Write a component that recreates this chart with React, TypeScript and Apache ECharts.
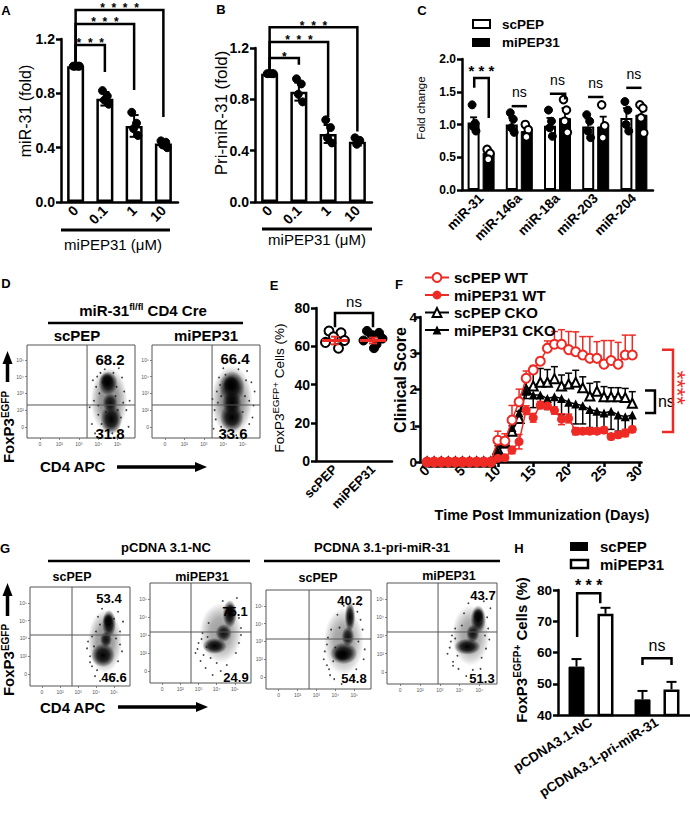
import React, { useEffect, useRef } from 'react';
import * as echarts from 'echarts';

const FONT = '"Liberation Sans", Arial, Helvetica, sans-serif';
const RED = '#ee2a24';

// ---------------- Panel A ----------------
const doseLabels = ['0', '0.1', '1', '10'];
const aMean = [1.0, 0.76, 0.56, 0.43];
const aSd = [0, 0.05, 0.08, 0.02];
const aDots = [[1, 1, 1, 1], [0.82, 0.78, 0.75, 0.72], [0.66, 0.58, 0.54, 0.49], [0.45, 0.44, 0.42, 0.4]];
const aSig = [[0, 0, 1, 0, 1.156, 1.03, 0.957], [0, 0, 2, 0, 1.31, 1.03, 0.825], [0, 0, 3, 0, 1.414, 1.03, 0.626]];
const aSigText = ['*  *  *', '*  *  *', '*  *  *  *'];

// ---------------- Panel B ----------------
const bMean = [1.0, 0.86, 0.53, 0.47];
const bSd = [0, 0.07, 0.07, 0.03];
const bDots = [[1, 1, 1, 1], [0.96, 0.92, 0.84, 0.78], [0.64, 0.58, 0.5, 0.46], [0.5, 0.48, 0.45]];
const bSig = [[0, 0, 1, 0, 1.122, 1.03, 1.07], [0, 0, 2, 0, 1.247, 1.03, 0.662], [0, 0, 3, 0, 1.362, 1.03, 0.55]];
const bSigText = ['*', '*  *  *', '*  *  *'];

// ---------------- Panel C ----------------
const mirCats = ['miR-31', 'miR-146a', 'miR-18a', 'miR-203', 'miR-204'];
const cScMean = [1.03, 1.0, 0.98, 0.97, 1.1];
const cScSd = [0.08, 0.1, 0.12, 0.12, 0.15];
const cScDots = [[1.3, 1.02, 0.97, 0.9], [1.18, 1.08, 0.95, 0.88], [1.22, 1.05, 0.95, 0.82], [1.15, 1.05, 0.9, 0.8], [1.35, 1.22, 1.0, 0.9]];
const cMiMean = [0.57, 0.9, 1.1, 0.97, 1.15];
const cMiSd = [0.05, 0.08, 0.15, 0.15, 0.12];
const cMiDots = [[0.62, 0.56, 0.47], [1.0, 0.92, 0.81], [1.38, 1.22, 1.05, 0.88], [1.3, 0.98, 0.8], [1.3, 1.25, 1.1, 0.87]];
const cSig = [[0, -0.18, 0, 0.2, 1.71, 1.56, 1.1], [1, -0.2, 1, 0.2, 1.28, 1.28, 1.28], [2, -0.2, 2, 0.2, 1.47, 1.47, 1.38], [3, -0.2, 3, 0.2, 1.42, 1.42, 1.42], [4, -0.2, 4, 0.2, 1.56, 1.56, 1.56]];
const cSigText = ['* * *', 'ns', 'ns', 'ns', 'ns'];

// ---------------- Panel E ----------------
const eCats = ['scPEP', 'miPEP31'];
const eScDots = [68, 67, 65, 63, 62, 59];
const eMiDots = [68, 67, 66, 64, 63, 61, 59];
const eMean = [63, 63];
const eSd = [2, 1.5];
const eSig = [[0, 0, 1, 0, 77.4, 70, 70]];
const eSigText = ['ns'];

// ---------------- Panel F ----------------
const days = [0, 1, 2, 3, 4, 5, 6, 7, 8, 9, 10, 11, 12, 13, 14, 15, 16, 17, 18, 19, 20, 21, 22, 23, 24, 25, 26, 27, 28, 29];
const fScWt = [0, 0, 0, 0, 0, 0, 0, 0, 0, 0, 0.6, 0.58, 1.16, 1.66, 2.31, 2.54, 2.78, 3.14, 3.25, 3.25, 3.1, 3.04, 2.95, 2.86, 2.86, 2.7, 2.8, 2.7, 2.95, 2.95];
const fScWtSd = [0, 0, 0, 0, 0, 0, 0, 0, 0, 0, 0.25, 0.2, 0.4, 0.35, 0.2, 0.12, 0.1, 0.2, 0.35, 0.4, 0.5, 0.55, 0.51, 0.6, 0.46, 0.65, 0.55, 0.6, 0.55, 0.55];
const fMiWt = [0, 0, 0, 0, 0, 0, 0, 0, 0, 0, 0.1, 0.12, 0.33, 0.56, 1.43, 1.22, 1.57, 1.55, 1.42, 1.18, 1.2, 0.85, 0.85, 0.85, 0.85, 0.88, 0.7, 0.75, 0.8, 0.9];
const fMiWtSd = [0, 0, 0, 0, 0, 0, 0, 0, 0, 0, 0.05, 0.05, 0.1, 0.2, 0.12, 0.12, 0.1, 0.1, 0.1, 0.15, 0.12, 0.1, 0.08, 0.08, 0.08, 0.08, 0.08, 0.08, 0.1, 0.08];
const fScKo = [0, 0, 0, 0, 0, 0, 0, 0, 0, 0, 0.35, 0.55, 0.85, 1.2, 2.0, 2.1, 2.2, 2.2, 2.3, 2.1, 2.15, 2.2, 2.05, 1.82, 1.95, 1.8, 1.8, 1.8, 1.78, 1.62];
const fScKoSd = [0, 0, 0, 0, 0, 0, 0, 0, 0, 0, 0.1, 0.1, 0.15, 0.2, 0.25, 0.35, 0.38, 0.35, 0.33, 0.3, 0.3, 0.33, 0.3, 0.35, 0.26, 0.28, 0.25, 0.25, 0.25, 0.32];
const fMiKo = [0, 0, 0, 0, 0, 0, 0, 0, 0, 0, 0.3, 0.5, 0.95, 1.35, 1.95, 1.85, 1.85, 1.75, 1.8, 1.75, 1.65, 1.6, 1.55, 1.45, 1.4, 1.35, 1.4, 1.3, 1.25, 1.3];
const fMiKoSd = [0, 0, 0, 0, 0, 0, 0, 0, 0, 0, 0.1, 0.1, 0.15, 0.15, 0.2, 0.35, 0.3, 0.3, 0.35, 0.45, 0.5, 0.55, 0.5, 0.5, 0.55, 0.5, 0.5, 0.45, 0.45, 0.4];
const fDayTicks = [0, 5, 10, 15, 20, 25, 30];
const fSig = [[30.8, 32.2, 1.97, 1.35], [33.2, 34.75, 3.1, 0.83]];
const fSigText = ['ns', '****'];

// ---------------- Panel H ----------------
const hCats = ['pCDNA3.1-NC', 'pCDNA3.1-pri-miR-31'];
const hScMean = [55.5, 45.0];
const hScSd = [2.4, 2.7];
const hMiMean = [72.4, 48.2];
const hMiSd = [1.9, 2.4];
const hSig = [[0, -0.21, 0, 0.14, 79, 65, 75.8], [1, -0.22, 1, 0.22, 58.2, 56, 56]];
const hSigText = ['* * *', 'ns'];

// ---------------- Flow panels (x, y in 0-100 display units) ----------------
const flowTicks = [12, 30, 48, 66, 84];
const flowTickText = ['0', '10²', '10³', '10⁴', '10⁵'];
// clouds: [x, y, rx, ry, density]
const d1Clouds = [[76, 40, 17, 36, 0.5], [75, 59, 9, 13, 1], [78, 20, 10, 16, 1], [77, 38, 7, 10, 0.9], [74, 62, 6, 8, 0.9]];
const d2Clouds = [[74, 40, 19, 38, 0.55], [74, 55, 12, 17, 1], [74, 22, 11, 15, 1], [74, 38, 9, 12, 1], [73, 58, 7, 9, 0.9]];
const g1Clouds = [[75, 45, 17, 32, 0.45], [79, 63, 7, 14, 1], [73, 31, 12, 12, 1], [76, 47, 6, 8, 0.9], [78, 66, 5, 7, 0.9]];
const g2Clouds = [[70, 50, 21, 30, 0.4], [79, 69, 7, 14, 1], [64, 37, 12, 8, 1], [73, 50, 8, 9, 0.9], [80, 72, 5, 7, 0.9]];
const g3Clouds = [[74, 48, 19, 34, 0.4], [80, 73, 5, 15, 1], [74, 36, 13, 11, 1], [78, 53, 6, 10, 0.9], [72, 34, 7, 6, 0.9]];
const g4Clouds = [[76, 48, 17, 30, 0.4], [83, 64, 7, 14, 1], [73, 37, 12, 8, 1], [78, 50, 6, 9, 0.9], [83, 68, 5, 7, 0.9]];
const d1Specks = [[62, 40], [64, 55], [66, 25], [60, 15], [68, 70], [70, 8], [88, 65], [92, 30], [90, 50], [85, 75], [63, 5], [94, 12], [58, 33], [67, 48], [86, 8], [72, 74], [95, 40], [61, 62], [70, 60], [82, 45], [84, 30], [73, 28], [80, 70], [69, 15], [83, 55], [79, 5], [66, 35], [87, 22], [65, 66], [89, 38]];
const d2Specks = [[58, 30], [60, 50], [62, 65], [64, 12], [66, 75], [92, 60], [94, 35], [90, 15], [88, 72], [56, 42], [70, 3], [95, 50], [59, 20], [63, 57], [68, 68], [86, 45], [84, 28], [61, 38], [90, 40], [87, 62], [66, 5], [80, 74], [57, 10], [93, 22], [64, 45], [78, 3]];
const g1Specks = [[58, 45], [60, 30], [62, 20], [65, 10], [66, 55], [68, 70], [90, 55], [92, 35], [88, 75], [85, 12], [70, 5], [93, 65], [57, 38], [64, 40], [70, 62], [86, 48], [88, 25], [62, 50], [72, 78], [84, 68], [67, 16], [90, 42], [60, 24], [75, 12]];
const g2Specks = [[45, 30], [48, 40], [50, 22], [52, 50], [55, 15], [58, 60], [90, 55], [92, 75], [88, 40], [70, 12], [62, 8], [86, 85], [47, 34], [53, 28], [57, 46], [60, 25], [88, 65], [85, 30], [72, 82], [66, 20], [51, 44], [90, 48], [76, 18], [56, 36]];
const g3Specks = [[55, 30], [58, 45], [60, 20], [62, 60], [65, 10], [68, 75], [92, 60], [94, 40], [90, 85], [86, 20], [56, 38], [72, 5], [59, 52], [64, 28], [88, 48], [90, 70], [70, 62], [61, 14], [84, 12], [66, 42], [93, 30], [74, 84], [58, 24], [87, 78]];
const g4Specks = [[55, 30], [58, 42], [60, 22], [62, 55], [65, 15], [70, 70], [92, 55], [94, 75], [90, 35], [85, 15], [57, 36], [72, 8], [62, 45], [64, 28], [89, 48], [91, 66], [74, 80], [60, 18], [86, 26], [68, 58], [93, 44], [78, 14], [59, 48], [88, 82]];
const d1Gate = [[55.6, 35.5]];
const d2Gate = [[55.6, 35.5]];
const g1Gate = [[42, 51.5]];
const g2Gate = [[40.6, 51]];
const g3Gate = [[41, 50.5]];
const g4Gate = [[46.4, 51.5]];

// ---------------- helpers ----------------
const JIT = [-0.6, 0.6, -0.15, 0.95, -0.95, 0.35, 0.1];

function flat(lists: number[][]) {
  const out: number[][] = [];
  lists.forEach((vals, ci) => vals.forEach((v, k) => out.push([ci, v, k])));
  return out;
}

let measureCtx: CanvasRenderingContext2D | null = null;
function measure(text: string, size: number, weight: string) {
  if (!measureCtx) measureCtx = document.createElement('canvas').getContext('2d');
  if (!measureCtx) return text.length * size * 0.55;
  measureCtx.font = `${weight} ${size}px ${FONT}`;
  return measureCtx.measureText(text).width;
}

function tstyle(text: string, size: number, weight: string, align: string, fill = '#000', extra: any = {}) {
  return {
    text, fontSize: size, fontWeight: weight, fontFamily: FONT, fill,
    align, textAlign: align, verticalAlign: 'middle', textVerticalAlign: 'middle', ...extra,
  };
}

function T(x: number, y: number, text: string, size: number, weight = 'bold', align = 'center', extra: any = {}) {
  return { type: 'text', x, y, silent: true, style: tstyle(text, size, weight, align, extra.fill || '#000', extra.style || {}), rotation: extra.rotation || 0 };
}

function supLabel(parts: { t: string; s: number; w: string; rise: number }[], cx: number, cy: number, rotation: number) {
  const widths = parts.map((p) => measure(p.t, p.s, p.w));
  const total = widths.reduce((a, b) => a + b, 0);
  let x = -total / 2;
  const children = parts.map((p, i) => {
    const el = { type: 'text', x, y: -p.rise, style: tstyle(p.t, p.s, p.w, 'left') };
    x += widths[i];
    return el;
  });
  return { type: 'group', x: cx, y: cy, rotation, silent: true, children };
}

function line(x1: number, y1: number, x2: number, y2: number, w: number, color = '#000') {
  return { type: 'line', silent: true, shape: { x1, y1, x2, y2 }, style: { stroke: color, lineWidth: w } };
}

function arrowUp(x: number, tip: number, headBase: number, tail: number) {
  return [
    line(x, headBase, x, tail, 3.5),
    { type: 'polygon', silent: true, shape: { points: [[x, tip], [x - 5, headBase + 1], [x + 5, headBase + 1]] }, style: { fill: '#000' } },
  ];
}
function arrowRight(y: number, x1: number, headBase: number, tip: number) {
  return [
    line(x1, y, headBase, y, 3.5),
    { type: 'polygon', silent: true, shape: { points: [[tip, y], [headBase - 1, y - 5], [headBase - 1, y + 5]] }, style: { fill: '#000' } },
  ];
}

function errRender(o: { off: number; dir: string; color: string; cap: number; lw: number }) {
  return (params: any, api: any) => {
    const x = api.value(0), m = api.value(1), sd = api.value(2);
    if (!sd) return { type: 'group', children: [] };
    const p = api.coord([x, m]);
    const cx = p[0] + o.off;
    const top = o.dir === 'down' ? p[1] : api.coord([x, m + sd])[1];
    const bot = o.dir === 'up' ? p[1] : api.coord([x, m - sd])[1];
    const st = { stroke: o.color, lineWidth: o.lw };
    const ch: any[] = [{ type: 'line', shape: { x1: cx, y1: top, x2: cx, y2: bot }, style: st }];
    if (o.dir !== 'down') ch.push({ type: 'line', shape: { x1: cx - o.cap / 2, y1: top, x2: cx + o.cap / 2, y2: top }, style: st });
    if (o.dir !== 'up') ch.push({ type: 'line', shape: { x1: cx - o.cap / 2, y1: bot, x2: cx + o.cap / 2, y2: bot }, style: st });
    return { type: 'group', children: ch };
  };
}

function dotsRender(o: { off: number; fill: string; r: number; jitter: number; lw: number }) {
  return (params: any, api: any) => {
    const p = api.coord([api.value(0), api.value(1)]);
    const slot = api.value(2);
    const j = JIT[slot % JIT.length] * o.jitter;
    return { type: 'circle', shape: { cx: p[0] + o.off + j, cy: p[1], r: o.r }, style: { fill: o.fill, stroke: '#000', lineWidth: o.lw } };
  };
}

function bracketRender(labels: string[], o: { gapStar: number; gapNs: number; fsStar: number; fsNs: number; lw: number }) {
  return (params: any, api: any) => {
    const c1 = api.value(0), o1 = api.value(1), c2 = api.value(2), o2 = api.value(3);
    const top = api.value(4), b1 = api.value(5), b2 = api.value(6);
    const band = api.size([1, 0])[0];
    const p1 = api.coord([c1, top]), p2 = api.coord([c2, top]);
    const x1 = p1[0] + o1 * band, x2 = p2[0] + o2 * band, yt = p1[1];
    const y1 = api.coord([c1, b1])[1], y2 = api.coord([c2, b2])[1];
    const lab = labels[params.dataIndex];
    const star = lab.indexOf('*') >= 0;
    return {
      type: 'group',
      children: [
        { type: 'polyline', shape: { points: [[x1, y1], [x1, yt], [x2, yt], [x2, y2]] }, style: { stroke: '#000', lineWidth: o.lw, fill: 'none' } },
        {
          type: 'text', x: (x1 + x2) / 2, y: yt - (star ? o.gapStar : o.gapNs),
          style: tstyle(lab, star ? o.fsStar : o.fsNs, star ? 'bold' : 'normal', 'center', '#000', star ? { lineHeight: 9 } : {}),
        },
      ],
    };
  };
}

function sideBracketRender(labels: string[], colors: string[]) {
  return (params: any, api: any) => {
    const xl = api.value(0), xr = api.value(1), yt = api.value(2), yb = api.value(3);
    const pTL = api.coord([xl, yt]), pBR = api.coord([xr, yb]);
    const col = colors[params.dataIndex];
    const lab = labels[params.dataIndex];
    const star = lab.indexOf('*') >= 0;
    const midY = (pTL[1] + pBR[1]) / 2;
    const txt = star
      ? { type: 'text', x: pBR[0] + 5, y: midY - 3, rotation: -Math.PI / 2, style: tstyle(lab, 22, 'normal', 'center', col, { lineHeight: 9 }) }
      : { type: 'text', x: pBR[0] + 3, y: midY, style: tstyle(lab, 16, 'normal', 'left', col) };
    return {
      type: 'group',
      children: [
        { type: 'polyline', shape: { points: [[pTL[0], pTL[1]], [pBR[0], pTL[1]], [pBR[0], pBR[1]], [pTL[0], pBR[1]]] }, style: { stroke: col, lineWidth: 2.5, fill: 'none' } },
        txt,
      ],
    };
  };
}

function eMeanRender(params: any, api: any) {
  const x = api.value(0), m = api.value(1), sd = api.value(2);
  const p = api.coord([x, m]);
  const t = api.coord([x, m + sd])[1], b = api.coord([x, m - sd])[1];
  const st = { stroke: RED, lineWidth: 3 };
  return {
    type: 'group',
    children: [
      { type: 'line', shape: { x1: p[0] - 13, y1: p[1], x2: p[0] + 13, y2: p[1] }, style: st },
      { type: 'line', shape: { x1: p[0], y1: t, x2: p[0], y2: b }, style: { stroke: RED, lineWidth: 2 } },
      { type: 'line', shape: { x1: p[0] - 4, y1: t, x2: p[0] + 4, y2: t }, style: { stroke: RED, lineWidth: 2 } },
      { type: 'line', shape: { x1: p[0] - 4, y1: b, x2: p[0] + 4, y2: b }, style: { stroke: RED, lineWidth: 2 } },
    ],
  };
}

function cloudRender(params: any, api: any) {
  const c = api.coord([api.value(0), api.value(1)]);
  const s = api.size([api.value(2), api.value(3)]);
  const grad = new echarts.graphic.RadialGradient(0.5, 0.5, 0.5, [
    { offset: 0, color: 'rgba(0,0,0,1)' },
    { offset: 0.5, color: 'rgba(0,0,0,0.8)' },
    { offset: 0.8, color: 'rgba(0,0,0,0.35)' },
    { offset: 1, color: 'rgba(0,0,0,0)' },
  ]);
  return { type: 'circle', x: c[0], y: c[1], scaleX: s[0], scaleY: s[1], shape: { cx: 0, cy: 0, r: 1 }, style: { fill: grad, opacity: api.value(4) } };
}

function gateRender(params: any, api: any) {
  const cs = params.coordSys;
  const p = api.coord([api.value(0), api.value(1)]);
  const st = { stroke: '#555', lineWidth: 1 };
  return {
    type: 'group',
    children: [
      { type: 'line', shape: { x1: p[0], y1: cs.y, x2: p[0], y2: cs.y + cs.height }, style: st },
      { type: 'line', shape: { x1: cs.x, y1: p[1], x2: cs.x + cs.width, y2: p[1] }, style: st },
    ],
  };
}

const boldTxt = (size: number) => ({ fontFamily: FONT, fontWeight: 'bold', fontSize: size, color: '#000' });

function catX(gi: number, data: string[], fs: number, rot: number, lw: number) {
  return {
    type: 'category', gridIndex: gi, data,
    axisLine: { onZero: false, lineStyle: { color: '#000', width: lw } },
    axisTick: { alignWithLabel: true, length: 5, lineStyle: { color: '#000', width: lw } },
    axisLabel: { ...boldTxt(fs), rotate: rot, margin: 6, interval: 0 },
    splitLine: { show: false },
  };
}
function valY(gi: number, min: number, max: number, interval: number, fs: number, lw: number, digits: number, margin = 6) {
  return {
    type: 'value', gridIndex: gi, min, max, interval,
    axisLine: { show: true, onZero: false, lineStyle: { color: '#000', width: lw } },
    axisTick: { show: true, length: 5, lineStyle: { color: '#000', width: lw } },
    axisLabel: { ...boldTxt(fs), margin, formatter: (v: number) => v.toFixed(digits) },
    splitLine: { show: false },
  };
}
function flowAxis(gi: number) {
  return {
    type: 'value', gridIndex: gi, min: 0, max: 100,
    axisLine: { show: false, onZero: false },
    axisTick: { show: true, length: 2, customValues: flowTicks, lineStyle: { color: '#666', width: 0.8 } },
    axisLabel: {
      fontSize: 5, color: '#555', margin: 3, fontFamily: FONT, customValues: flowTicks,
      formatter: (v: number) => { const i = flowTicks.indexOf(v); return i >= 0 ? flowTickText[i] : ''; },
    },
    splitLine: { show: false },
  };
}

function flowSeries(gi: number, clouds: number[][], specks: number[][], gate: number[][]) {
  return [
    { type: 'custom', xAxisIndex: gi, yAxisIndex: gi, data: clouds, renderItem: cloudRender, silent: true, z: 2, clip: true },
    { type: 'scatter', xAxisIndex: gi, yAxisIndex: gi, data: specks, symbolSize: 1.8, itemStyle: { color: '#111' }, silent: true, z: 3 },
    { type: 'custom', xAxisIndex: gi, yAxisIndex: gi, data: gate, renderItem: gateRender, silent: true, z: 4 },
  ];
}

function buildOption() {
  const gridBase = { containLabel: false, outerBoundsMode: 'none' };
  const flowGrid = { show: true, borderColor: '#555', borderWidth: 1, backgroundColor: 'transparent' };
  const grid = [
    { ...gridBase, left: 61, top: 39, width: 117, height: 163 },
    { ...gridBase, left: 255, top: 48, width: 117, height: 154 },
    { ...gridBase, left: 462, top: 59, width: 191, height: 131 },
    { ...gridBase, ...flowGrid, left: 27, top: 345, width: 108, height: 93 },
    { ...gridBase, ...flowGrid, left: 152, top: 345, width: 108, height: 93 },
    { ...gridBase, left: 316, top: 308, width: 76, height: 153 },
    { ...gridBase, left: 420, top: 317, width: 221.5, height: 145 },
    { ...gridBase, ...flowGrid, left: 30, top: 587, width: 100, height: 99 },
    { ...gridBase, ...flowGrid, left: 150, top: 583, width: 101, height: 100 },
    { ...gridBase, ...flowGrid, left: 266, top: 590, width: 105, height: 99 },
    { ...gridBase, ...flowGrid, left: 387, top: 583, width: 110, height: 101 },
    { ...gridBase, left: 558, top: 590, width: 132, height: 125 },
  ];

  const xAxis: any[] = [
    catX(0, doseLabels, 14, 45, 2.5),
    catX(1, doseLabels, 14, 45, 2.5),
    catX(2, mirCats, 13.5, 45, 2.5),
    flowAxis(3),
    flowAxis(4),
    catX(5, eCats, 13, 45, 2.5),
    {
      type: 'value', gridIndex: 6, min: -1, max: 30.3,
      axisLine: { show: true, onZero: false, lineStyle: { color: '#000', width: 2.5 } },
      axisTick: { show: true, length: 5, customValues: fDayTicks, lineStyle: { color: '#000', width: 2.5 } },
      axisLabel: { ...boldTxt(14), rotate: 45, margin: 6, customValues: fDayTicks },
      splitLine: { show: false },
    },
    flowAxis(7), flowAxis(8), flowAxis(9), flowAxis(10),
    catX(11, hCats, 13.5, 32, 2.5),
  ];
  const yAxis: any[] = [
    valY(0, 0, 1.2, 0.4, 14, 2.5, 1),
    valY(1, 0, 1.2, 0.4, 14, 2.5, 1),
    valY(2, 0, 2, 0.5, 12, 2.5, 1),
    flowAxis(3),
    flowAxis(4),
    valY(5, 0, 80, 20, 14, 2.5, 0),
    valY(6, 0, 4, 1, 13.5, 2.5, 0, 3),
    flowAxis(7), flowAxis(8), flowAxis(9), flowAxis(10),
    valY(11, 40, 80, 10, 13.5, 2.5, 0),
  ];

  const series: any[] = [];
  // A
  series.push(
    { type: 'bar', xAxisIndex: 0, yAxisIndex: 0, data: aMean, barWidth: 17, itemStyle: { color: '#fff', borderColor: '#000', borderWidth: 2.5 }, z: 2, silent: true },
    { type: 'custom', xAxisIndex: 0, yAxisIndex: 0, data: aMean.map((m, i) => [i, m, aSd[i]]), renderItem: errRender({ off: 0, dir: 'both', color: '#000', cap: 9, lw: 2 }), z: 3, silent: true },
    { type: 'custom', xAxisIndex: 0, yAxisIndex: 0, data: flat(aDots), renderItem: dotsRender({ off: 0, fill: '#000', r: 4, jitter: 4, lw: 1 }), z: 4, silent: true },
    { type: 'custom', xAxisIndex: 0, yAxisIndex: 0, data: aSig, renderItem: bracketRender(aSigText, { gapStar: 2, gapNs: 10, fsStar: 12, fsNs: 15, lw: 2.5 }), z: 5, silent: true },
  );
  // B
  series.push(
    { type: 'bar', xAxisIndex: 1, yAxisIndex: 1, data: bMean, barWidth: 17, itemStyle: { color: '#fff', borderColor: '#000', borderWidth: 2.5 }, z: 2, silent: true },
    { type: 'custom', xAxisIndex: 1, yAxisIndex: 1, data: bMean.map((m, i) => [i, m, bSd[i]]), renderItem: errRender({ off: 0, dir: 'both', color: '#000', cap: 9, lw: 2 }), z: 3, silent: true },
    { type: 'custom', xAxisIndex: 1, yAxisIndex: 1, data: flat(bDots), renderItem: dotsRender({ off: 0, fill: '#000', r: 4, jitter: 4, lw: 1 }), z: 4, silent: true },
    { type: 'custom', xAxisIndex: 1, yAxisIndex: 1, data: bSig, renderItem: bracketRender(bSigText, { gapStar: 1.5, gapNs: 10, fsStar: 12, fsNs: 15, lw: 2.5 }), z: 5, silent: true },
  );
  // C
  series.push(
    { type: 'bar', name: 'scPEP-C', xAxisIndex: 2, yAxisIndex: 2, data: cScMean, barWidth: 12, barGap: '25%', itemStyle: { color: '#fff', borderColor: '#000', borderWidth: 2 }, z: 2, silent: true },
    { type: 'bar', name: 'miPEP31-C', xAxisIndex: 2, yAxisIndex: 2, data: cMiMean, barWidth: 12, barGap: '25%', itemStyle: { color: '#000', borderColor: '#000', borderWidth: 1 }, z: 2, silent: true },
    { type: 'custom', xAxisIndex: 2, yAxisIndex: 2, data: cScMean.map((m, i) => [i, m, cScSd[i]]), renderItem: errRender({ off: -7.5, dir: 'up', color: '#000', cap: 7, lw: 1.8 }), z: 3, silent: true },
    { type: 'custom', xAxisIndex: 2, yAxisIndex: 2, data: cMiMean.map((m, i) => [i, m, cMiSd[i]]), renderItem: errRender({ off: 7.5, dir: 'up', color: '#000', cap: 7, lw: 1.8 }), z: 3, silent: true },
    { type: 'custom', xAxisIndex: 2, yAxisIndex: 2, data: flat(cScDots), renderItem: dotsRender({ off: -7.5, fill: '#000', r: 4, jitter: 2.5, lw: 1 }), z: 4, silent: true },
    { type: 'custom', xAxisIndex: 2, yAxisIndex: 2, data: flat(cMiDots), renderItem: dotsRender({ off: 7.5, fill: '#fff', r: 3.8, jitter: 2.5, lw: 2 }), z: 4, silent: true },
    { type: 'custom', xAxisIndex: 2, yAxisIndex: 2, data: cSig, renderItem: bracketRender(cSigText, { gapStar: 7.5, gapNs: 14, fsStar: 15, fsNs: 14, lw: 2.5 }), z: 5, silent: true },
  );
  // D
  series.push(...flowSeries(3, d1Clouds, d1Specks, d1Gate), ...flowSeries(4, d2Clouds, d2Specks, d2Gate));
  // E
  series.push(
    { type: 'custom', xAxisIndex: 5, yAxisIndex: 5, data: flat([eScDots, []]), renderItem: dotsRender({ off: 0, fill: '#fff', r: 4.5, jitter: 10, lw: 2 }), z: 3, silent: true },
    { type: 'custom', xAxisIndex: 5, yAxisIndex: 5, data: flat([[], eMiDots]), renderItem: dotsRender({ off: 0, fill: '#000', r: 4.5, jitter: 10, lw: 1 }), z: 3, silent: true },
    { type: 'custom', xAxisIndex: 5, yAxisIndex: 5, data: eMean.map((m, i) => [i, m, eSd[i]]), renderItem: eMeanRender, z: 4, silent: true },
    { type: 'custom', xAxisIndex: 5, yAxisIndex: 5, data: eSig, renderItem: bracketRender(eSigText, { gapStar: 4, gapNs: 11, fsStar: 15, fsNs: 15, lw: 2.5 }), z: 5, silent: true },
  );
  // F
  const fPts = (arr: number[]) => days.map((d, i) => [d, arr[i]]);
  const fErr = (arr: number[], sd: number[]) => days.map((d, i) => [d, arr[i], sd[i]]);
  series.push(
    { type: 'custom', xAxisIndex: 6, yAxisIndex: 6, data: fErr(fScKo, fScKoSd), renderItem: errRender({ off: 0, dir: 'up', color: '#000', cap: 7, lw: 1.5 }), z: 2, silent: true },
    { type: 'custom', xAxisIndex: 6, yAxisIndex: 6, data: fErr(fMiKo, fMiKoSd), renderItem: errRender({ off: 0, dir: 'down', color: '#000', cap: 7, lw: 1.5 }), z: 2, silent: true },
    { type: 'custom', xAxisIndex: 6, yAxisIndex: 6, data: fErr(fScWt, fScWtSd), renderItem: errRender({ off: 0, dir: 'up', color: RED, cap: 7, lw: 1.5 }), z: 2, silent: true },
    { type: 'custom', xAxisIndex: 6, yAxisIndex: 6, data: fErr(fMiWt, fMiWtSd), renderItem: errRender({ off: 0, dir: 'both', color: RED, cap: 7, lw: 1.5 }), z: 2, silent: true },
    { type: 'line', name: 'scPEP CKO', xAxisIndex: 6, yAxisIndex: 6, data: fPts(fScKo), symbol: 'emptyTriangle', symbolSize: 9, lineStyle: { color: '#000', width: 1.5 }, itemStyle: { color: '#000', borderWidth: 1.5 }, z: 3, silent: true },
    { type: 'line', name: 'miPEP31 CKO', xAxisIndex: 6, yAxisIndex: 6, data: fPts(fMiKo), symbol: 'triangle', symbolSize: 9, lineStyle: { color: '#000', width: 1.5 }, itemStyle: { color: '#000' }, z: 3, silent: true },
    { type: 'line', name: 'scPEP WT', xAxisIndex: 6, yAxisIndex: 6, data: fPts(fScWt), symbol: 'emptyCircle', symbolSize: 9, lineStyle: { color: RED, width: 1.5 }, itemStyle: { color: RED, borderWidth: 1.5 }, z: 4, silent: true },
    { type: 'line', name: 'miPEP31 WT', xAxisIndex: 6, yAxisIndex: 6, data: fPts(fMiWt), symbol: 'circle', symbolSize: 9, lineStyle: { color: RED, width: 1.5 }, itemStyle: { color: RED }, z: 5, silent: true },
    { type: 'custom', xAxisIndex: 6, yAxisIndex: 6, data: fSig, renderItem: sideBracketRender(fSigText, ['#000', RED]), z: 6, silent: true },
  );
  // G
  series.push(
    ...flowSeries(7, g1Clouds, g1Specks, g1Gate),
    ...flowSeries(8, g2Clouds, g2Specks, g2Gate),
    ...flowSeries(9, g3Clouds, g3Specks, g3Gate),
    ...flowSeries(10, g4Clouds, g4Specks, g4Gate),
  );
  // H
  series.push(
    { type: 'bar', name: 'scPEP-H', xAxisIndex: 11, yAxisIndex: 11, data: hScMean, barWidth: 16, barGap: '81%', itemStyle: { color: '#000', borderColor: '#000', borderWidth: 1 }, z: 2, silent: true },
    { type: 'bar', name: 'miPEP31-H', xAxisIndex: 11, yAxisIndex: 11, data: hMiMean, barWidth: 16, barGap: '81%', itemStyle: { color: '#fff', borderColor: '#000', borderWidth: 2.5 }, z: 2, silent: true },
    { type: 'custom', xAxisIndex: 11, yAxisIndex: 11, data: hScMean.map((m, i) => [i, m, hScSd[i]]), renderItem: errRender({ off: -14.5, dir: 'up', color: '#000', cap: 10, lw: 2 }), z: 3, silent: true },
    { type: 'custom', xAxisIndex: 11, yAxisIndex: 11, data: hMiMean.map((m, i) => [i, m, hMiSd[i]]), renderItem: errRender({ off: 14.5, dir: 'up', color: '#000', cap: 10, lw: 2 }), z: 3, silent: true },
    { type: 'custom', xAxisIndex: 11, yAxisIndex: 11, data: hSig, renderItem: bracketRender(hSigText, { gapStar: 7.5, gapNs: 12.5, fsStar: 16, fsNs: 16, lw: 2.5 }), z: 5, silent: true },
  );

  const g: any[] = [];
  // panel letters
  [['A', 6, 10], ['B', 221, 9], ['C', 422, 10], ['D', 6, 283], ['E', 274, 285], ['F', 399, 284], ['G', 5, 548], ['H', 519, 548]].forEach(([t, x, y]) => g.push(T(x as number, y as number, t as string, 13)));
  // axis titles
  g.push(T(25, 111, 'miR-31 (fold)', 16, 'normal', 'center', { rotation: Math.PI / 2 }));
  g.push(T(221, 113, 'Pri-miR-31 (fold)', 17, 'normal', 'center', { rotation: Math.PI / 2 }));
  g.push(T(421, 108, 'Fold change', 11.5, 'normal', 'center', { rotation: Math.PI / 2 }));
  g.push(T(400, 380, 'Clinical Score', 16, 'bold', 'center', { rotation: Math.PI / 2 }));
  g.push(T(542, 515, 'Time Post Immunization (Days)', 14.5, 'bold'));
  g.push(supLabel([{ t: 'FoxP3', s: 13.5, w: 'normal', rise: 0 }, { t: 'EGFP+', s: 9.5, w: 'normal', rise: 3.5 }, { t: ' Cells (%)', s: 13.5, w: 'normal', rise: 0 }], 279, 388, Math.PI / 2));
  g.push(supLabel([{ t: 'FoxP3', s: 15, w: 'bold', rise: 0 }, { t: 'EGFP+', s: 10, w: 'bold', rise: 4 }, { t: ' Cells (%)', s: 15, w: 'bold', rise: 0 }], 521, 650, Math.PI / 2));
  // A/B under-lines
  g.push(line(61, 230, 170, 230, 3), T(113, 244, 'miPEP31 (μM)', 15, 'normal'));
  g.push(line(262, 229, 372, 229, 3), T(317, 239, 'miPEP31 (μM)', 15, 'normal'));
  // C legend
  g.push({ type: 'rect', silent: true, shape: { x: 473, y: 20, width: 17, height: 8 }, style: { fill: '#fff', stroke: '#000', lineWidth: 2 } });
  g.push({ type: 'rect', silent: true, shape: { x: 472, y: 38, width: 18, height: 9 }, style: { fill: '#000' } });
  g.push(T(502, 24, 'scPEP', 13.5, 'bold', 'left'), T(502, 42, 'miPEP31', 13.5, 'bold', 'left'));
  // H legend
  g.push({ type: 'rect', silent: true, shape: { x: 570, y: 542, width: 18, height: 9 }, style: { fill: '#000' } });
  g.push({ type: 'rect', silent: true, shape: { x: 571, y: 560, width: 17, height: 8 }, style: { fill: '#fff', stroke: '#000', lineWidth: 2.5 } });
  g.push(T(600, 546, 'scPEP', 15, 'bold', 'left'), T(600, 564, 'miPEP31', 15, 'bold', 'left'));
  // D texts
  g.push(supLabel([{ t: 'miR-31', s: 15, w: 'bold', rise: 0 }, { t: 'fl/fl', s: 9.5, w: 'bold', rise: 3.5 }, { t: ' CD4 Cre', s: 15, w: 'bold', rise: 0 }], 143, 310, 0));
  g.push(line(48, 323, 243, 323, 2.5));
  g.push(T(77, 335, 'scPEP', 15), T(206, 335, 'miPEP31', 15));
  g.push(T(110, 359, '68.2', 15), T(110, 433, '31.8', 15), T(235, 358, '66.4', 15), T(233, 433, '33.6', 15));
  g.push(...arrowUp(7.5, 351, 363, 382));
  g.push(supLabel([{ t: 'FoxP3', s: 15, w: 'bold', rise: 0 }, { t: 'EGFP', s: 10, w: 'bold', rise: 2.5 }], 8, 427, Math.PI / 2));
  g.push(T(40, 466, 'CD4 APC', 15, 'bold', 'left'));
  g.push(...arrowRight(467, 117, 196, 207));
  // G texts
  g.push(T(166, 547, 'pCDNA 3.1-NC', 13), T(382, 547, 'PCDNA 3.1-pri-miR-31', 13));
  g.push(line(48, 561, 250, 561, 2.5), line(264, 561, 500, 561, 2.5));
  g.push(T(72, 577, 'scPEP', 12.5), T(202, 577, 'miPEP31', 12.5), T(318, 578, 'scPEP', 12.5), T(449, 576, 'miPEP31', 12.5));
  g.push(T(109, 598, '53.4', 13), T(114, 677, '46.6', 13), T(235, 611, '75.1', 13), T(236, 677, '24.9', 13));
  g.push(T(350, 600, '40.2', 13), T(354, 678, '54.8', 13), T(483, 595, '43.7', 13), T(482, 678, '51.3', 13));
  g.push(...arrowUp(7.5, 583, 595, 616));
  g.push(supLabel([{ t: 'FoxP3', s: 15, w: 'bold', rise: 0 }, { t: 'EGFP', s: 10, w: 'bold', rise: 2.5 }], 8, 660, Math.PI / 2));
  g.push(T(40, 707, 'CD4 APC', 15, 'bold', 'left'));
  g.push(...arrowRight(707, 118, 197, 208));

  return {
    animation: false,
    backgroundColor: '#fff',
    textStyle: { fontFamily: FONT },
    grid,
    xAxis,
    yAxis,
    legend: [{
      data: ['scPEP WT', 'miPEP31 WT', 'scPEP CKO', 'miPEP31 CKO'],
      orient: 'vertical', left: 424, top: 269, padding: 0, itemGap: 0.5,
      itemWidth: 24, itemHeight: 11, selectedMode: false,
      textStyle: { ...boldTxt(15), lineHeight: 17 },
    }],
    series,
    graphic: { elements: g },
  };
}

export default function App() {
  const ref = useRef<HTMLDivElement>(null);
  useEffect(() => {
    if (!ref.current) return;
    const chart = echarts.init(ref.current, undefined, { renderer: 'svg' });
    chart.setOption(buildOption() as any);
    return () => chart.dispose();
  }, []);
  return <div ref={ref} style={{ position: 'absolute', left: 0, top: 0, width: 690, height: 813, background: '#fff' }} />;
}
